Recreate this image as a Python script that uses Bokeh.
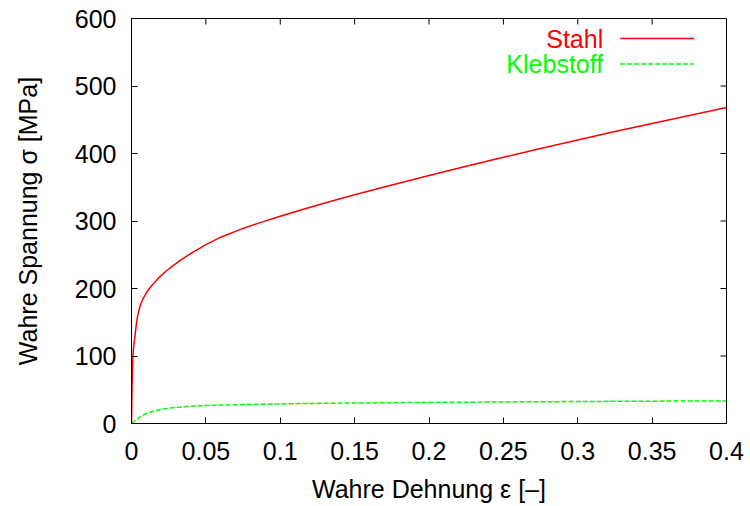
import math
from bokeh.plotting import figure
from bokeh.models import Range1d, FixedTicker, Label, Arrow
from bokeh.embed import file_html
from bokeh.resources import INLINE

# ---- data ----
strain_stahl = [0, 0.0003, 0.0007, 0.0013, 0.002, 0.0025, 0.0032, 0.004, 0.005, 0.006,
                0.008, 0.0105, 0.0135, 0.0165, 0.0195, 0.0235, 0.028, 0.034, 0.04, 0.05,
                0.06, 0.075, 0.087, 0.1, 0.115, 0.13, 0.15, 0.175, 0.2, 0.225,
                0.25, 0.275, 0.3, 0.325, 0.35, 0.375, 0.4]
stress_stahl = [0, 46, 85, 110, 124, 133, 146, 158, 168, 176,
                186, 195.5, 204, 211.5, 218.3, 226.3, 234, 243.5, 252, 265,
                276, 289, 298, 307, 317, 326.6, 338.8, 353.3, 367.5, 381.1,
                394.4, 407.4, 420.1, 432.5, 444.6, 456.4, 468]

strain_kleb = [0, 0.003, 0.006, 0.009, 0.0114, 0.015, 0.02, 0.025, 0.029, 0.038, 0.05,
               0.07, 0.1, 0.13, 0.2, 0.27, 0.34, 0.4]
stress_kleb = [0, 5, 10, 13.8, 16, 18.5, 21, 22.6, 23.6, 25.3, 26.6,
               27.8, 29, 30, 31.2, 32.2, 33, 33.5]

x_ticks = [0, 0.05, 0.1, 0.15, 0.2, 0.25, 0.3, 0.35, 0.4]
x_tick_labels = ["0", "0.05", "0.1", "0.15", "0.2", "0.25", "0.3", "0.35", "0.4"]
y_ticks = [0, 100, 200, 300, 400, 500, 600]
y_tick_labels = ["0", "100", "200", "300", "400", "500", "600"]

series_names = ["Stahl", "Klebstoff"]
series_colors = ["#ff0000", "#00ff00"]
series_dashes = ["solid", "5 2"]

x_title = "Wahre Dehnung ε [–]"
y_title = "Wahre Spannung σ [MPa]"

X_MIN, X_MAX = 0, 0.4
Y_MIN, Y_MAX = 0, 600

FONT = "Liberation Sans"
FS = "25px"

p = figure(width=750, height=506, output_backend="svg", toolbar_location=None,
           x_range=Range1d(X_MIN, X_MAX), y_range=Range1d(Y_MIN, Y_MAX),
           min_border_left=131, min_border_right=24, min_border_top=18, min_border_bottom=83,
           x_axis_label=x_title, y_axis_label=y_title)
p.grid.visible = False
p.outline_line_color = "black"
p.outline_line_width = 1
p.background_fill_color = "white"
p.border_fill_color = "white"

r1 = p.line(strain_stahl, stress_stahl, line_color=series_colors[0], line_width=1.5,
            line_dash=series_dashes[0])
r2 = p.line(strain_kleb, stress_kleb, line_color=series_colors[1], line_width=1.5,
            line_dash=series_dashes[1])

for ax, ticks, labels in ((p.xaxis[0], x_ticks, x_tick_labels), (p.yaxis[0], y_ticks, y_tick_labels)):
    ax.ticker = FixedTicker(ticks=ticks)
    ax.major_label_overrides = {t: l for t, l in zip(ticks, labels)}
    ax.major_tick_in = 6
    ax.major_tick_out = 0
    ax.minor_tick_in = 0
    ax.minor_tick_out = 0
    ax.axis_line_color = "black"
    ax.major_tick_line_color = "black"
    ax.major_label_text_font = FONT
    ax.major_label_text_font_size = FS
    ax.major_label_text_color = "black"
    ax.axis_label_text_font = FONT
    ax.axis_label_text_font_style = "normal"
    ax.axis_label_text_font_size = FS
    ax.axis_label_text_color = "black"

p.xaxis[0].major_label_standoff = 18
p.xaxis[0].axis_label_standoff = 12
p.yaxis[0].major_label_standoff = 15
p.yaxis[0].axis_label_standoff = 30

# mirrored inward ticks on the top and right border (gnuplot style)
p.ray(x=x_ticks, y=[Y_MAX] * len(x_ticks), length=6, length_units="screen",
      angle=-math.pi / 2, line_color="black", line_width=1)
p.ray(x=[X_MAX] * len(y_ticks), y=y_ticks, length=6, length_units="screen",
      angle=math.pi, line_color="black", line_width=1)

# key, gnuplot style: right-aligned text followed by the line sample
key_text_right = 471.7     # screen px from frame left
key_sample_left = 488.7
key_sample_len = 74
key_rows = [384.9, 359.6]  # screen px from frame bottom
for name, color, dash, ly in zip(series_names, series_colors, series_dashes, key_rows):
    p.add_layout(Label(x=key_text_right, y=ly, x_units="screen", y_units="screen", text=name,
                       text_align="right", text_baseline="middle", text_color=color,
                       text_font=FONT, text_font_size=FS))
    p.add_layout(Arrow(start=None, end=None,
                       x_start=key_sample_left, y_start=ly,
                       x_end=key_sample_left + key_sample_len, y_end=ly,
                       start_units="screen", end_units="screen",
                       line_color=color, line_width=1.5, line_dash=dash))

open("out.html", "w").write(file_html(p, INLINE))
